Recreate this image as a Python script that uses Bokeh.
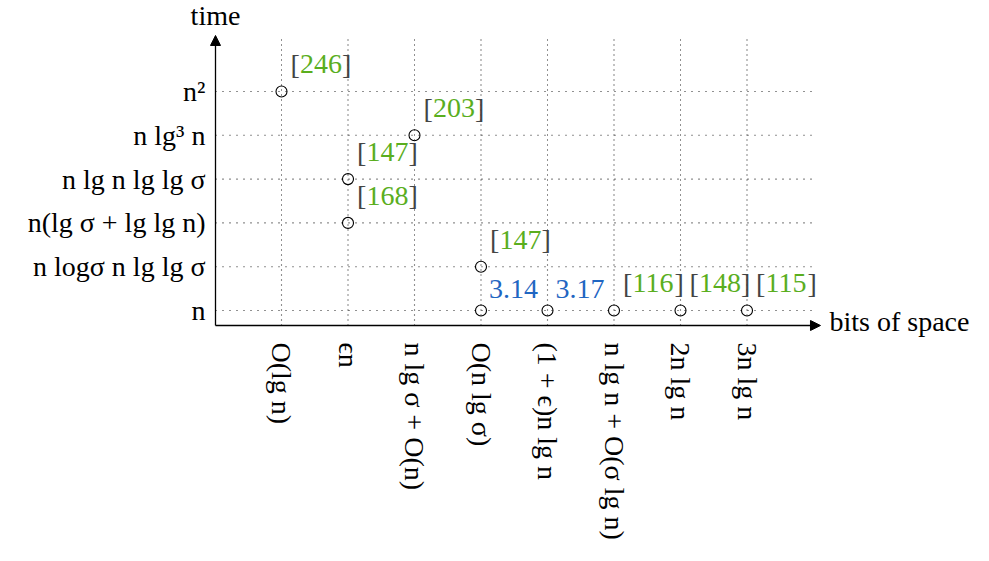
import math
from bokeh.plotting import figure
from bokeh.models import ColumnDataSource, Arrow, NormalHead
from bokeh.core.properties import value
from bokeh.embed import file_html
from bokeh.resources import INLINE

# --- data ---------------------------------------------------------------
space_labels = ["O(lg n)", "ϵn", "n lg σ + O(n)", "O(n lg σ)",
                "(1 + ϵ)n lg n", "n lg n + O(σ lg n)", "2n lg n", "3n lg n"]
time_labels = ["n", "n logσ n lg lg σ", "n(lg σ + lg lg n)",
               "n lg n lg lg σ", "n lg³ n", "n²"]
x_title = "bits of space"
y_title = "time"

# points: (space index, time index, label, cited?)
pt_space = [0, 2, 1, 1, 3, 3, 4, 5, 6, 7]
pt_time = [5, 4, 3, 2, 1, 0, 0, 0, 0, 0]
pt_label = ["246", "203", "147", "168", "147", "3.14", "3.17", "116", "148", "115"]
pt_cited = [True, True, True, True, True, False, False, True, True, True]

GREEN = "#5aae1e"
BLUE = "#1f66c2"
BRACKET = "#444444"
FONT = "Liberation Serif"
FS = "28px"

W, H = 973, 550
# frame covers the whole canvas; data ranges chosen so that the axes sit
# where the original drawing has them
x_start, x_end = -4.2256, 10.406
y_start, y_end = -5.4795, 7.0776
x_axis, y_axis = -0.9925, -0.3425        # where the two axes cross
x_arrow, y_arrow = 8.105, 6.279          # arrow tips
x_grid, y_grid = 8.03, 6.22              # grid extents

p = figure(width=W, height=H, output_backend="svg", toolbar_location=None,
           x_range=(x_start, x_end), y_range=(y_start, y_end),
           x_axis_location=None, y_axis_location=None, min_border=0)
p.outline_line_color = None
p.background_fill_color = "white"
p.border_fill_color = "white"
p.xgrid.visible = False
p.ygrid.visible = False

xs = list(range(len(space_labels)))
ys = list(range(len(time_labels)))

# dotted grid
p.segment(x0=xs, y0=[y_axis] * len(xs), x1=xs, y1=[y_grid] * len(xs),
          line_color="#222222", line_dash="1 4", line_width=1.1)
p.segment(x0=[x_axis] * len(ys), y0=ys, x1=[x_grid] * len(ys), y1=ys,
          line_color="#222222", line_dash="1 6", line_width=1.1)

# axis arrows
p.add_layout(Arrow(end=NormalHead(size=10, fill_color="black", line_color="black"),
                   x_start=x_axis, y_start=y_axis, x_end=x_arrow, y_end=y_axis,
                   line_color="black", line_width=1.3))
p.add_layout(Arrow(end=NormalHead(size=10, fill_color="black", line_color="black"),
                   x_start=x_axis, y_start=y_axis, x_end=x_axis, y_end=y_arrow,
                   line_color="black", line_width=1.3))

txt = dict(text_font=value(FONT), text_font_size=FS)

# tick labels
p.text(x=[x_axis] * len(ys), y=ys, text=time_labels, x_offset=-10,
       text_align="right", text_baseline="middle", text_color="black", **txt)
p.text(x=xs, y=[y_axis] * len(xs), text=space_labels, angle=-math.pi / 2,
       y_offset=17, text_align="left", text_baseline="middle",
       text_color="black", **txt)

# axis titles
p.text(x=[x_axis], y=[y_arrow], text=[y_title], y_offset=-20,
       text_align="center", text_baseline="alphabetic", text_color="black", **txt)
p.text(x=[x_arrow], y=[y_axis], text=[x_title], x_offset=9, y_offset=-4,
       text_align="left", text_baseline="alphabetic", text_color="black", **txt)

# points
src = ColumnDataSource(dict(x=pt_space, y=pt_time))
p.scatter("x", "y", source=src, size=11, marker="circle", fill_color=None,
          line_color="black", line_width=1.1)

# point labels
cx = [x for x, c in zip(pt_space, pt_cited) if c]
cy = [y for y, c in zip(pt_time, pt_cited) if c]
cl = [l for l, c in zip(pt_label, pt_cited) if c]
ux = [x for x, c in zip(pt_space, pt_cited) if not c]
uy = [y for y, c in zip(pt_time, pt_cited) if not c]
ul = [l for l, c in zip(pt_label, pt_cited) if not c]

cited = ColumnDataSource(dict(x=cx, y=cy, num=cl, lb=["["] * len(cl), rb=["]"] * len(cl)))
common = dict(text_baseline="alphabetic", text_align="left", **txt)
p.text("x", "y", text="lb", source=cited, x_offset=9, y_offset=-27,
       text_color=BRACKET, **common)
p.text("x", "y", text="num", source=cited, x_offset=18.5, y_offset=-27,
       text_color=GREEN, **common)
p.text("x", "y", text="rb", source=cited, x_offset=60.5, y_offset=-27,
       text_color=BRACKET, **common)

unc = ColumnDataSource(dict(x=ux, y=uy, num=ul))
p.text("x", "y", text="num", source=unc, x_offset=8, y_offset=-21,
       text_color=BLUE, **common)

open("out.html", "w").write(file_html(p, INLINE))
